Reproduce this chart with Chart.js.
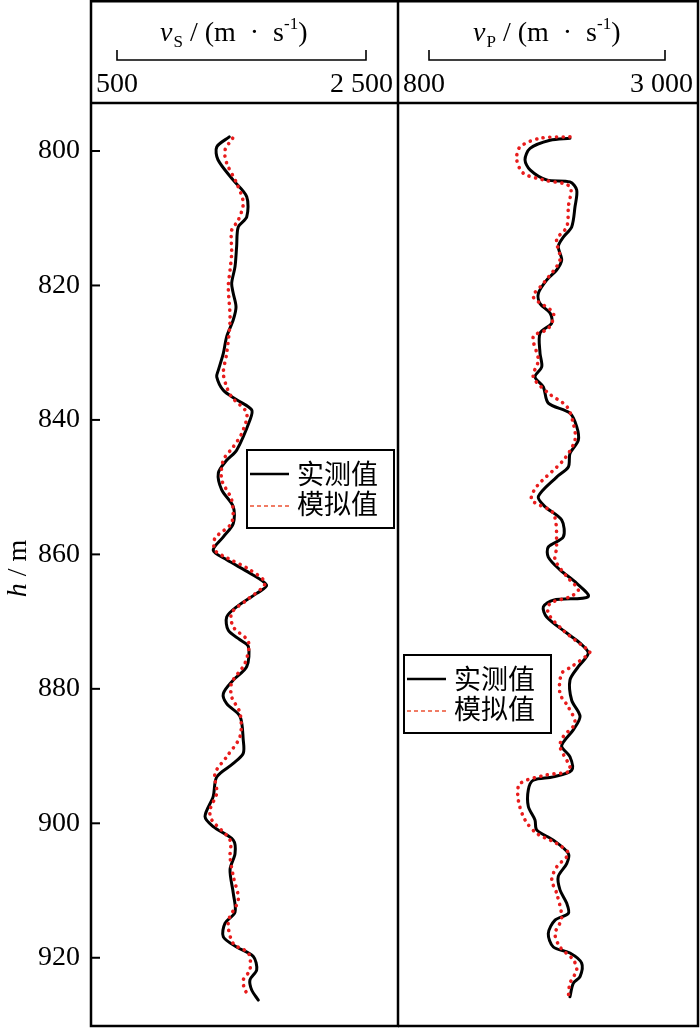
<!DOCTYPE html>
<html><head><meta charset="utf-8">
<script src="https://cdn.jsdelivr.net/npm/chart.js@4.4.0/dist/chart.umd.min.js"></script>
<style>
html,body{margin:0;padding:0;background:#fff;}
#wrap{position:relative;width:700px;height:1028px;background:#fff;}
#c1{position:absolute;left:0;top:0;width:399px;height:1028px;}
#c2{position:absolute;left:398px;top:0;width:302px;height:1028px;}
</style></head><body>
<div id="wrap"><canvas id="c1" width="399" height="1028"></canvas><canvas id="c2" width="302" height="1028"></canvas></div>
<script>
// ---- Data (depth h in m, velocity in m/s) ----
const depthTicks = [800, 820, 840, 860, 880, 900, 920];
const vsAxisRange = [500, 2500];
const vsAxisLabels = ['500', '2 500'];
const vpAxisRange = [800, 3000];
const vpAxisLabels = ['800', '3 000'];
const legendLabels = ['实测值', '模拟值'];

const hS_meas = [797.9,799.4,801.3,804.3,806.8,809.8,811.3,814.2,817.2,819.7,821.2,823.2,825.1,827.6,830.1,832.6,833.6,835.6,837.0,838.5,840.0,844.5,846.0,847.9,850.4,852.9,855.4,857.4,859.4,860.8,862.8,864.6,865.8,867.8,869.3,871.3,872.7,873.7,876.7,878.7,880.7,882.2,884.1,887.6,889.6,891.1,893.1,896.0,899.0,900.5,902.5,904.5,906.9,910.4,913.2,914.9,916.9,918.4,919.8,921.8,923.3,924.8,926.3];
const vS_meas = [1402,1301,1311,1432,1542,1542,1474,1461,1448,1421,1434,1456,1434,1381,1354,1314,1301,1354,1461,1582,1568,1461,1381,1314,1341,1434,1434,1354,1273,1381,1568,1702,1622,1461,1381,1394,1488,1555,1542,1434,1354,1381,1488,1514,1514,1434,1301,1273,1207,1273,1434,1448,1408,1434,1448,1367,1354,1461,1595,1622,1568,1582,1635];

const hS_sim = [798.1,799.9,801.8,804.8,807.7,810.3,811.8,815.2,817.7,820.2,825.1,830.1,833.0,835.1,836.6,839.0,842.0,844.0,846.0,848.9,851.9,855.3,857.6,859.4,860.5,862.3,864.3,866.8,868.7,870.8,873.0,876.2,879.1,881.2,883.6,887.1,890.1,892.6,895.5,898.0,899.5,902.5,905.0,907.9,911.4,914.6,917.9,919.3,921.8,923.3,924.8,925.8];
const vS_sim = [1429,1367,1381,1461,1514,1474,1421,1421,1408,1394,1408,1381,1354,1381,1421,1542,1502,1434,1354,1341,1421,1421,1287,1287,1381,1568,1689,1542,1421,1434,1555,1528,1421,1421,1488,1488,1381,1287,1301,1247,1261,1408,1408,1434,1474,1394,1434,1555,1568,1514,1528,1568];

const hP_meas = [798.1,798.4,799.6,801.3,802.8,804.3,804.6,805.8,808.3,811.3,812.8,814.2,816.2,817.7,819.2,821.2,822.7,824.1,825.6,827.1,830.1,832.1,833.6,835.1,837.5,839.0,841.0,843.0,845.0,847.0,848.5,851.4,852.9,854.9,857.4,858.9,860.4,862.3,864.3,866.3,866.8,867.8,869.3,871.7,873.2,874.7,876.7,878.7,881.7,884.1,886.1,887.6,888.6,890.1,892.1,893.1,893.6,895.0,897.5,899.5,901.0,902.5,904.5,906.0,907.9,909.9,911.9,913.4,914.4,916.4,918.4,919.3,920.8,922.8,923.8,925.8];
const vP_meas = [2114,1928,1742,1695,1742,1897,2114,2177,2161,2130,2052,2005,2037,1990,1897,1819,1835,1928,1944,1835,1835,1851,1788,1866,1912,2114,2177,2192,2114,2099,1990,1819,1881,2037,2052,1912,1912,2021,2177,2285,1959,1866,1897,2084,2208,2285,2192,2114,2130,2208,2145,2068,2037,2114,2130,1959,1772,1726,1726,1788,1804,1959,2099,2084,2005,2021,2084,2099,1975,1912,1959,2114,2223,2208,2145,2114];

const hP_sim = [797.9,798.1,799.4,801.3,803.3,804.3,805.3,808.3,811.3,813.2,816.2,819.7,821.7,824.1,826.4,827.6,831.1,833.6,836.0,838.0,840.5,843.0,846.0,849.9,851.9,853.9,858.9,860.8,863.3,865.3,866.3,867.3,868.8,871.3,873.7,874.5,876.7,877.7,880.7,882.7,885.1,887.1,888.6,892.1,892.8,894.1,896.5,899.5,901.5,903.0,904.5,906.5,908.4,910.4,914.1,916.4,918.4,920.3,921.8,923.8,925.8];
const vP_sim = [2114,1835,1648,1618,1679,1866,2114,2099,2084,1990,2021,1866,1772,1959,1912,1772,1819,1772,1912,2084,2145,2161,2052,1804,1757,1959,1990,1975,2084,2192,2114,1928,1912,2052,2238,2301,2130,2037,2021,2099,2161,2052,2021,2114,1897,1648,1632,1695,1804,1990,2099,1990,1944,1990,2037,1975,2021,2145,2177,2114,2099];

// ---- helpers ----
const SERIF = '"Liberation Serif", "Times New Roman", serif';
const CJK = '"Noto Sans CJK SC", sans-serif';
const RED = 'rgb(232,28,28)';
const pairs = (hs, vs) => hs.map((h, i) => ({x: vs[i], y: h}));

function drawVelTitle(ctx, x, y, sub) {
  ctx.save();
  ctx.fillStyle = '#000'; ctx.textAlign = 'left'; ctx.textBaseline = 'alphabetic';
  ctx.font = 'italic 28px ' + SERIF; ctx.fillText('v', x, y); x += ctx.measureText('v').width + 1;
  ctx.font = '17px ' + SERIF; ctx.fillText(sub, x, y + 6); x += ctx.measureText(sub).width;
  ctx.font = '28px ' + SERIF;
  const t = ' / (m  \u00b7  s'; ctx.fillText(t, x, y); x += ctx.measureText(t).width;
  ctx.font = '17px ' + SERIF; ctx.fillText('-1', x, y - 12); x += ctx.measureText('-1').width;
  ctx.font = '28px ' + SERIF; ctx.fillText(')', x, y);
  ctx.restore();
}

function drawLegend(ctx, x, y, chart) {
  const w = 147, h = 78;
  const ds = chart.data.datasets;
  ctx.save();
  ctx.fillStyle = '#fff'; ctx.fillRect(x, y, w, h);
  ctx.strokeStyle = '#000'; ctx.lineWidth = 2; ctx.strokeRect(x, y, w, h);
  ctx.beginPath(); ctx.lineWidth = 2.5; ctx.strokeStyle = ds[0].borderColor;
  ctx.moveTo(x + 3, y + 24); ctx.lineTo(x + 42, y + 24); ctx.stroke();
  ctx.beginPath(); ctx.lineWidth = 1.5; ctx.strokeStyle = 'rgb(235,80,50)'; ctx.setLineDash([4, 3]);
  ctx.moveTo(x + 3, y + 56); ctx.lineTo(x + 44, y + 56); ctx.stroke();
  ctx.setLineDash([]);
  ctx.fillStyle = '#000'; ctx.font = '27px ' + CJK; ctx.textAlign = 'left'; ctx.textBaseline = 'middle';
  ctx.fillText(ds[0].label, x + 50, y + 24);
  ctx.fillText(ds[1].label, x + 50, y + 54);
  ctx.restore();
}

function panelPlugin(opts) {
  return {
    id: 'panel',
    afterDraw(chart) {
      const {ctx, chartArea: ca} = chart;
      const xs = chart.scales.x, ys = chart.scales.y;
      ctx.save();
      ctx.strokeStyle = '#000'; ctx.lineWidth = 2.5;
      ctx.strokeRect(ca.left, 1.25, ca.right - ca.left, ca.bottom - 1.25);
      ctx.beginPath(); ctx.moveTo(ca.left, ca.top); ctx.lineTo(ca.right, ca.top); ctx.stroke();
      const x1 = xs.getPixelForValue(opts.range[0]), x2 = xs.getPixelForValue(opts.range[1]);
      ctx.lineWidth = 1.6;
      ctx.beginPath();
      ctx.moveTo(x1, 50); ctx.lineTo(x1, 60); ctx.lineTo(x2, 60); ctx.lineTo(x2, 50);
      ctx.stroke();
      ctx.fillStyle = '#000'; ctx.font = '28px ' + SERIF; ctx.textBaseline = 'alphabetic';
      ctx.textAlign = 'left'; ctx.fillText(opts.labels[0], ca.left + 5, 92);
      ctx.textAlign = 'right'; ctx.fillText(opts.labels[1], ca.right - 5, 92);
      drawVelTitle(ctx, opts.titleX, 41, opts.sub);
      if (opts.yAxis) {
        ctx.lineWidth = 2;
        depthTicks.forEach(v => {
          const y = ys.getPixelForValue(v);
          ctx.beginPath(); ctx.moveTo(ca.left, y); ctx.lineTo(ca.left + 9, y); ctx.stroke();
        });
        ctx.save();
        ctx.translate(19, (ca.top + ca.bottom) / 2 + 4);
        ctx.rotate(-Math.PI / 2);
        ctx.textBaseline = 'middle'; ctx.textAlign = 'left';
        ctx.font = 'italic 28px ' + SERIF;
        const hw = ctx.measureText('h').width;
        ctx.font = '28px ' + SERIF;
        const rw = ctx.measureText(' / m').width;
        let sx = -(hw + rw) / 2;
        ctx.font = 'italic 28px ' + SERIF; ctx.fillText('h', sx, 0);
        ctx.font = '28px ' + SERIF; ctx.fillText(' / m', sx + hw, 0);
        ctx.restore();
      }
      drawLegend(ctx, opts.legendX, opts.legendY, chart);
      ctx.restore();
    }
  };
}

function makeChart(id, meas, sim, xmin, xmax, showY, padL, padR, opts) {
  return new Chart(document.getElementById(id), {
    type: 'scatter',
    data: {
      datasets: [
        {label: legendLabels[0], data: meas, showLine: true, borderColor: '#000', borderWidth: 3,
         pointRadius: 0, tension: 0.3, order: 1, borderCapStyle: 'round', borderJoinStyle: 'round'},
        {label: legendLabels[1], data: sim, showLine: true, borderColor: RED, borderWidth: 3.6,
         borderDash: [0.1, 6.6], borderCapStyle: 'round', pointRadius: 0, tension: 0.3, order: 0}
      ]
    },
    options: {
      responsive: false, animation: false, devicePixelRatio: 1,
      layout: {padding: {top: 103, bottom: 2, left: padL, right: padR}},
      plugins: {legend: {display: false}, tooltip: {enabled: false}},
      scales: {
        x: {type: 'linear', min: xmin, max: xmax, display: false},
        y: {
          type: 'linear', reverse: true, min: 792.86, max: 930.15, display: showY,
          afterFit(s) {
            s.width = showY ? 91 : 0;
            s.paddingTop = 0; s.paddingBottom = 0; s.paddingLeft = 0; s.paddingRight = 0;
          },
          afterBuildTicks(s) { s.ticks = depthTicks.map(v => ({value: v})); },
          grid: {display: false, drawTicks: false},
          border: {display: false},
          ticks: {font: {family: SERIF, size: 28}, color: '#000', padding: 11}
        }
      }
    },
    plugins: [panelPlugin(opts)]
  });
}

makeChart('c1', pairs(hS_meas, vS_meas), pairs(hS_sim, vS_sim), 291.2, 2757, true, 0, 1,
  {range: vsAxisRange, labels: vsAxisLabels, sub: 'S', titleX: 160, yAxis: true, legendX: 247, legendY: 450});
makeChart('c2', pairs(hP_meas, vP_meas), pairs(hP_sim, vP_sim), 511, 3307.6, false, 0, 2,
  {range: vpAxisRange, labels: vpAxisLabels, sub: 'P', titleX: 75, yAxis: false, legendX: 6, legendY: 655});
</script>
</body></html>
